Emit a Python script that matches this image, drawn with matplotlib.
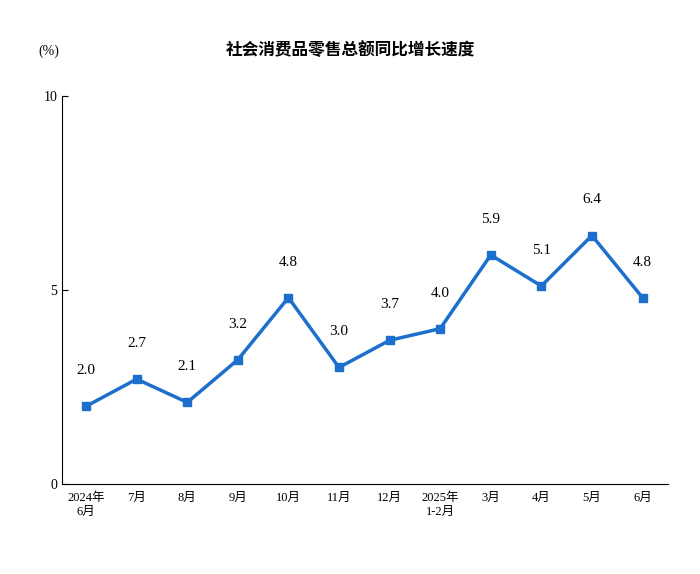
import matplotlib.pyplot as plt

plt.rcParams['font.family'] = ['Liberation Serif', 'Noto Sans CJK SC']

months = ["2024年\n6月", "7月", "8月", "9月", "10月", "11月", "12月",
          "2025年\n1-2月", "3月", "4月", "5月", "6月"]
growth = [2.0, 2.7, 2.1, 3.2, 4.8, 3.0, 3.7, 4.0, 5.9, 5.1, 6.4, 4.8]

fig = plt.figure(figsize=(7, 5.74), dpi=100)
ax = fig.add_axes([0.089, 0.157, 0.865, 0.676])
x = list(range(len(months)))
ax.plot(x, growth, color='#1c6fcc', lw=2.5, marker='s', ms=6)
for i, v in zip(x, growth):
    ax.text(i, v + 0.75, f"{v:.1f}", ha='center', va='bottom', fontsize=11)

ax.set_xlim(-0.47, 11.5)
ax.set_ylim(0, 10)
ax.set_yticks([0, 5, 10])
ax.set_xticks(x)
ax.set_xticklabels(months, fontsize=9)
ax.tick_params(axis='y', labelsize=10, direction='in', length=4)
ax.tick_params(axis='x', length=0, pad=6)
for s in ['top', 'right']:
    ax.spines[s].set_visible(False)

fig.text(0.07, 0.905, "(%)", fontsize=10, ha='center')
fig.text(0.5, 0.905, "社会消费品零售总额同比增长速度", fontsize=12, ha='center',
         fontweight='bold')
fig.savefig("out.png")
